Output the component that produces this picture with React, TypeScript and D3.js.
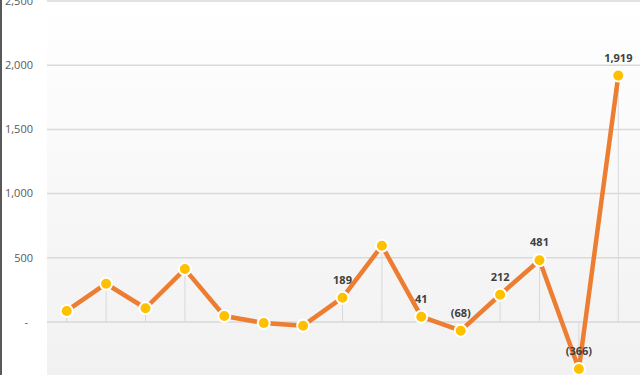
import React from "react";
import * as d3 from "d3";

const categories = ["1","2","3","4","5","6","7","8","9","10","11","12","13","14","15"];
const values = [86, 298, 107, 412, 47, -8, -29, 189, 594, 41, -68, 212, 481, -366, 1919];
const showLabel = [false,false,false,false,false,false,false,true,false,true,true,true,true,true,true];
const yTicks = [0, 500, 1000, 1500, 2000, 2500];

const W = 640, H = 375;
const plotLeft = 47, plotRight = 640;

const fmt = (v: number) => {
  if (v === 0) return "-";
  const s = d3.format(",")(Math.abs(v));
  return v < 0 ? `(${s})` : s;
};

export default function App() {
  const x = d3.scaleBand<string>().domain(categories).range([plotLeft, 638]);
  const y = d3.scaleLinear().domain([-413, 2500]).range([H, 1]);
  const cx = (i: number) => (x(categories[i]) as number) + x.bandwidth() / 2;
  const line = d3.line<number>().x((_, i) => cx(i)).y((d) => y(d));
  const font = "'Open Sans', 'Noto Sans', sans-serif";
  return (
    <svg width={W} height={H} style={{ position: "fixed", left: 0, top: 0, background: "#fff" }}>
      <defs>
        <linearGradient id="bg" x1="0" y1="0" x2="0" y2="1">
          <stop offset="0" stopColor="#ffffff" />
          <stop offset="1" stopColor="#f1f1f1" />
        </linearGradient>
      </defs>
      <rect x={plotLeft} y={0} width={plotRight - plotLeft} height={H} fill="url(#bg)" />
      {yTicks.map((t) => (
        <g key={t}>
          <line x1={plotLeft} x2={plotRight} y1={y(t)} y2={y(t)} stroke="#d9d9d9" strokeWidth={1.5} />
          <text x={t === 0 ? 28 : 33} y={y(t)} dy="0.35em" textAnchor="end" fontFamily={font} fontSize={11} fill="#595959">
            {fmt(t)}
          </text>
        </g>
      ))}
      {values.map((v, i) => (
        <line key={"d" + i} x1={cx(i)} x2={cx(i)} y1={y(0)} y2={y(v)} stroke="#d9d9d9" strokeWidth={1} />
      ))}
      <path d={line(values) || ""} fill="none" stroke="#ED7D31" strokeWidth={4.5} strokeLinejoin="round" />
      {values.map((v, i) => (
        <circle key={"c" + i} cx={cx(i)} cy={y(v)} r={6} fill="#FFC000" stroke="#fff" strokeWidth={2} />
      ))}
      {values.map((v, i) =>
        showLabel[i] ? (
          <text key={"l" + i} x={cx(i)} y={y(v) - 14} textAnchor="middle" fontFamily={font} fontSize={11} fontWeight="bold" fill="#404040">
            {fmt(v)}
          </text>
        ) : null
      )}
      <line x1={1} x2={1} y1={0} y2={H} stroke="#595959" strokeWidth={2} />
    </svg>
  );
}
